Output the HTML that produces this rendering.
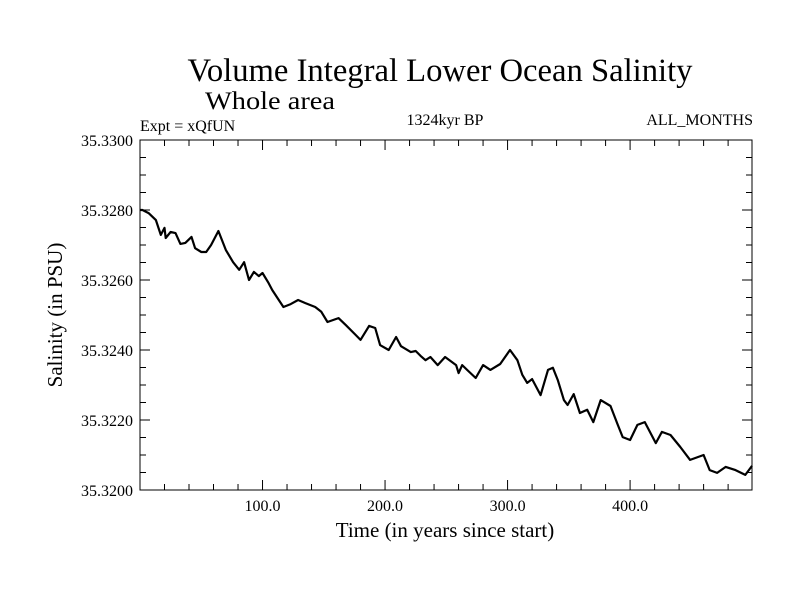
<!DOCTYPE html>
<html><head><meta charset="utf-8"><style>
body{margin:0;background:#fff}
svg{display:block;font-family:"Liberation Serif",serif}
</style></head><body>
<svg width="800" height="600" id="chart">
<rect width="800" height="600" fill="#fff"/>
<text x="440" y="81" font-size="33" text-anchor="middle" textLength="505" lengthAdjust="spacingAndGlyphs">Volume Integral Lower Ocean Salinity</text>
<text x="270" y="109" font-size="25" text-anchor="middle" textLength="130" lengthAdjust="spacingAndGlyphs">Whole area</text>
<text x="140" y="131" font-size="16">Expt = xQfUN</text>
<text x="445" y="125" font-size="16" text-anchor="middle">1324kyr BP</text>
<text x="753" y="125" font-size="16" text-anchor="end">ALL_MONTHS</text>
<text x="445" y="537" font-size="21" text-anchor="middle">Time (in years since start)</text>
<text transform="translate(62,315) rotate(-90)" font-size="21" text-anchor="middle">Salinity (in PSU)</text>
<g id="axes"></g>
<path id="line" fill="none" stroke="#000" stroke-width="2.2" stroke-linejoin="round"/>
<rect x="140" y="140" width="612" height="350" fill="none" stroke="#000" stroke-width="1"/>
</svg>
<script>
const years=[0,2,7,13,17,20,21,25,29,33,37,42,45,50,54,58,64,70,76,81,85,89,93,97,100,105,108,117,123,129,135,143,148,153,162,168,176,180,187,192,196,203,209,213,221,225,229,233,237,243,249,258,260,263,267,274,280,286,294,302,308,312,316,320,327,333,337,341,346,349,354,359,365,370,376,384,390,394,400,406,412,421,426,433,441,449,460,465,471,478,486,494,499.5];
const salinity=[35.3280,35.32800,35.32791,35.32771,35.32729,35.32749,35.32720,35.32737,35.32734,35.32703,35.32706,35.32723,35.32691,35.32680,35.32680,35.32700,35.32740,35.32686,35.32651,35.32629,35.32651,35.32600,35.32623,35.32611,35.32620,35.32591,35.32571,35.32523,35.32531,35.32543,35.32534,35.32523,35.32509,35.32480,35.32491,35.32471,35.32443,35.32429,35.32469,35.32463,35.32414,35.32400,35.32437,35.32411,35.32394,35.32397,35.32383,35.32371,35.32380,35.32357,35.32380,35.32357,35.32334,35.32357,35.32343,35.32320,35.32357,35.32343,35.32360,35.32400,35.32371,35.32329,35.32306,35.32317,35.32271,35.32343,35.32349,35.32314,35.32257,35.32243,35.32274,35.32220,35.32229,35.32194,35.32257,35.32240,35.32186,35.32151,35.32143,35.32186,35.32194,35.32134,35.32166,35.32157,35.32123,35.32086,35.32100,35.32057,35.32049,35.32066,35.32057,35.32043,35.32069];
const xTickLabels=["100.0","200.0","300.0","400.0"];
const xTickValues=[100,200,300,400];
const yTickLabels=["35.3200","35.3220","35.3240","35.3260","35.3280","35.3300"];
const yTickValues=[35.32,35.322,35.324,35.326,35.328,35.33];
const X0=140,X1=752,Y0=490,Y1=140,XMIN=0,XMAX=499.5,YMIN=35.32,YMAX=35.33;
function xs(v){return X0+(v-XMIN)/(XMAX-XMIN)*(X1-X0);}
function ys(v){return Y0-(v-YMIN)/(YMAX-YMIN)*(Y0-Y1);}
const NS="http://www.w3.org/2000/svg";
const g=document.getElementById('axes');
function ln(x1,y1,x2,y2,name){const l=document.createElementNS(NS,'line');l.setAttribute('x1',x1);l.setAttribute('y1',y1);l.setAttribute('x2',x2);l.setAttribute('y2',y2);l.setAttribute('stroke','#000');l.setAttribute('stroke-width','1');


g.appendChild(l);}
for(let v=20;v<XMAX;v+=20){const x=xs(v);const len=(v%100===0)?10:6;ln(x,Y0,x,Y0-len,'x-tick');ln(x,Y1,x,Y1+len,'x-tick-top');}
for(let i=1;i<20;i++){const v=YMIN+i*0.0005;const y=ys(v);const len=(i%4===0)?10:6;ln(X0,y,X0+len,y,'y-tick');ln(X1,y,X1-len,y,'y-tick-right');}
xTickLabels.forEach((t,i)=>{const e=document.createElementNS(NS,'text');e.setAttribute('x',xs(xTickValues[i]));e.setAttribute('y',Y0+21);e.setAttribute('font-size','16');e.setAttribute('text-anchor','middle');e.textContent=t;


g.appendChild(e);});
yTickLabels.forEach((t,i)=>{const e=document.createElementNS(NS,'text');e.setAttribute('x',X0-7);e.setAttribute('y',ys(yTickValues[i])+6);e.setAttribute('font-size','16');e.setAttribute('text-anchor','end');e.textContent=t;


g.appendChild(e);});
document.getElementById('line').setAttribute('d',years.map((yr,i)=>(i?'L':'M')+xs(yr).toFixed(1)+','+ys(salinity[i]).toFixed(1)).join(''));
</script>
</body></html>
